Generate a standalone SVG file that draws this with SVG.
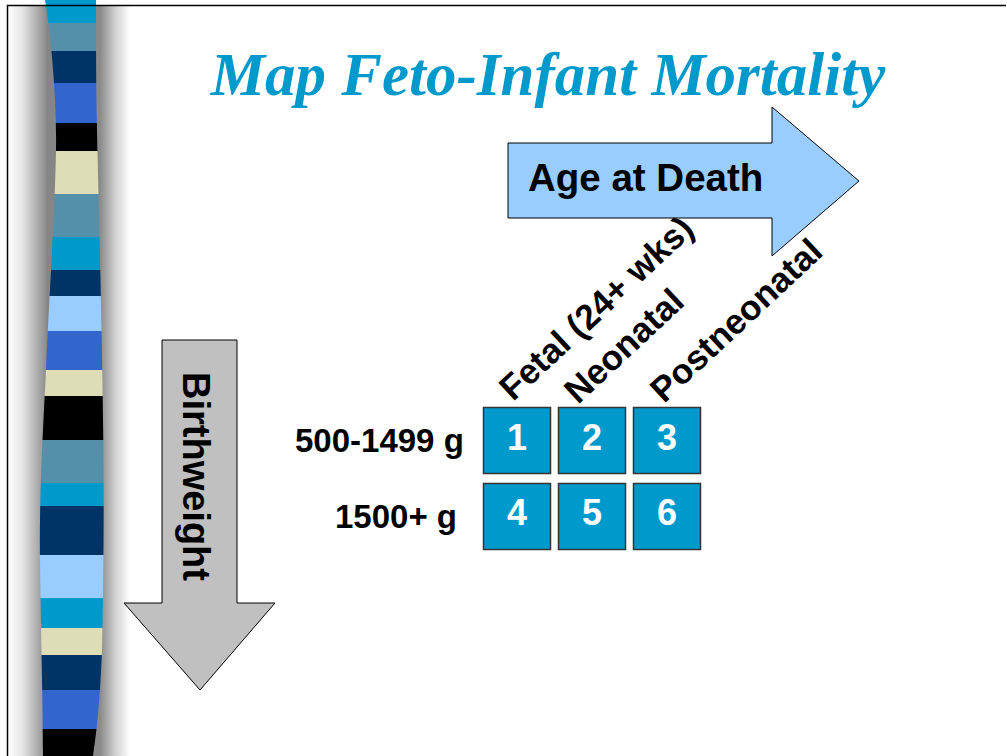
<svg xmlns="http://www.w3.org/2000/svg" width="1007" height="756" viewBox="0 0 1007 756">
  <defs>
    <style>
      .lbl { font-family: "Liberation Sans", Arial, sans-serif; font-weight: bold; fill: #000; }
      .num { font-family: "Liberation Sans", Arial, sans-serif; font-weight: bold; fill: #fff; font-size: 36px; text-anchor: middle; }
      .cell { fill: #0099CC; stroke: #333; stroke-width: 1.5; }
      .arrow { stroke: #000; stroke-width: 1; }
    </style>
    <linearGradient id="shL" x1="0" y1="0" x2="1" y2="0">
      <stop offset="0" stop-color="#ffffff"/>
      <stop offset="0.35" stop-color="#e6e6e6"/>
      <stop offset="1" stop-color="#868686"/>
    </linearGradient>
    <linearGradient id="shR" x1="0" y1="0" x2="1" y2="0">
      <stop offset="0" stop-color="#8a8a8a"/>
      <stop offset="0.5" stop-color="#cfcfcf"/>
      <stop offset="1" stop-color="#ffffff"/>
    </linearGradient>
    <clipPath id="band">
      <path d="M45,0 C52,40 57,110 56,150 C55,210 49,300 46,370 C43,430 39,500 40,560 C41,640 43,700 43,756 L93,756 C97,730 100,700 102,650 C104,560 104,480 103,420 C102,330 99,220 97,130 C96,80 96,40 96,0 Z"/>
    </clipPath>
  </defs>

  <rect x="0" y="0" width="1007" height="756" fill="#fff"/>

  <g id="sidebar">
    <rect x="8" y="6" width="40" height="750" fill="url(#shL)"/>
    <rect x="46" y="6" width="16" height="750" fill="#868686"/>
    <rect x="88" y="6" width="14" height="750" fill="#8a8a8a"/>
    <rect x="100" y="6" width="30" height="750" fill="url(#shR)"/>
    <g clip-path="url(#band)">
      <rect x="30" y="0" width="80" height="23" fill="#0099CC"/>
      <rect x="30" y="23" width="80" height="28" fill="#5590AA"/>
      <rect x="30" y="51" width="80" height="32" fill="#003366"/>
      <rect x="30" y="83" width="80" height="40" fill="#3366CC"/>
      <rect x="30" y="123" width="80" height="28" fill="#000000"/>
      <rect x="30" y="151" width="80" height="43" fill="#DDDDB8"/>
      <rect x="30" y="194" width="80" height="43" fill="#5590AA"/>
      <rect x="30" y="237" width="80" height="33" fill="#0099CC"/>
      <rect x="30" y="270" width="80" height="26" fill="#003366"/>
      <rect x="30" y="296" width="80" height="35" fill="#99CCFF"/>
      <rect x="30" y="331" width="80" height="39" fill="#3366CC"/>
      <rect x="30" y="370" width="80" height="26" fill="#DDDDB8"/>
      <rect x="30" y="396" width="80" height="44" fill="#000000"/>
      <rect x="30" y="440" width="80" height="43" fill="#5590AA"/>
      <rect x="30" y="483" width="80" height="23" fill="#0099CC"/>
      <rect x="30" y="506" width="80" height="49" fill="#003366"/>
      <rect x="30" y="555" width="80" height="43" fill="#99CCFF"/>
      <rect x="30" y="598" width="80" height="30" fill="#0099CC"/>
      <rect x="30" y="628" width="80" height="27" fill="#DDDDB8"/>
      <rect x="30" y="655" width="80" height="35" fill="#003366"/>
      <rect x="30" y="690" width="80" height="39" fill="#3366CC"/>
      <rect x="30" y="729" width="80" height="27" fill="#000000"/>
    </g>
  </g>

  <g id="frame">
    <path d="M7.5,756 L7.5,5.5 L1006,5.5" fill="none" stroke="#000" stroke-width="1.5"/>
  </g>

  <g id="title">
    <text x="548" y="95" text-anchor="middle" font-family="'Liberation Serif', 'Times New Roman', serif" font-weight="bold" font-style="italic" font-size="61" fill="#0099CC">Map Feto-Infant Mortality</text>
  </g>

  <g id="age-arrow">
    <path class="arrow" d="M508,143 L772,143 L772,107 L859,181 L772,256 L772,218 L508,218 Z" fill="#99CCFF"/>
    <text class="lbl" x="528" y="191" font-size="38.5">Age at Death</text>
  </g>

  <g id="birthweight-arrow">
    <path class="arrow" d="M162,340 L237,340 L237,603 L275,603 L200,690 L124,603 L162,603 Z" fill="#C0C0C0"/>
    <text class="lbl" font-size="38" transform="translate(183,372) rotate(90)">Birthweight</text>
  </g>

  <g id="column-labels">
    <text class="lbl" font-size="35" transform="translate(513,402) rotate(-43)">Fetal (24+ wks)</text>
    <text class="lbl" font-size="35" transform="translate(578,405) rotate(-43)">Neonatal</text>
    <text class="lbl" font-size="35" transform="translate(664,404) rotate(-43)">Postneonatal</text>
  </g>

  <g id="row-labels">
    <text class="lbl" x="295" y="452" font-size="33">500-1499 g</text>
    <text class="lbl" x="335" y="528" font-size="33">1500+ g</text>
  </g>

  <g id="cell-1"><rect class="cell" x="483.5" y="407.5" width="67" height="66"/><text class="num" x="517" y="450">1</text></g>
  <g id="cell-2"><rect class="cell" x="558.5" y="407.5" width="67" height="66"/><text class="num" x="592" y="450">2</text></g>
  <g id="cell-3"><rect class="cell" x="633.5" y="407.5" width="67" height="66"/><text class="num" x="667" y="450">3</text></g>
  <g id="cell-4"><rect class="cell" x="483.5" y="483.5" width="67" height="66"/><text class="num" x="517" y="525">4</text></g>
  <g id="cell-5"><rect class="cell" x="558.5" y="483.5" width="67" height="66"/><text class="num" x="592" y="525">5</text></g>
  <g id="cell-6"><rect class="cell" x="633.5" y="483.5" width="67" height="66"/><text class="num" x="667" y="525">6</text></g>
</svg>
